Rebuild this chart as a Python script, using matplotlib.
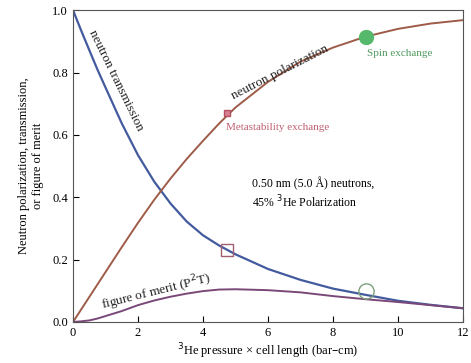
import matplotlib
matplotlib.use("Agg")
import matplotlib.pyplot as plt

# values
x = [0, 0.25, 0.5, 0.75, 1.0, 1.5, 2.0, 2.5, 3.0, 3.5, 4.0, 4.5, 5.0,
     6.0, 7.0, 8.0, 9.0, 10.0, 11.0, 12.0]
transmission = [1.0, 0.935, 0.872, 0.81, 0.752, 0.637, 0.535, 0.45, 0.38, 0.322,
                0.278, 0.245, 0.217, 0.17, 0.135, 0.107, 0.087, 0.068, 0.055, 0.044]
polarization = [0.0, 0.04, 0.08, 0.12, 0.16, 0.24, 0.318, 0.392, 0.46, 0.523,
                0.581, 0.637, 0.688, 0.77, 0.835, 0.88, 0.915, 0.94, 0.957, 0.968]
merit = [0.0, 0.002, 0.005, 0.011, 0.019, 0.035, 0.054, 0.069, 0.081, 0.091,
         0.099, 0.104, 0.105, 0.102, 0.095, 0.083, 0.073, 0.064, 0.054, 0.044]

# operating points
meta_x, meta_pol, meta_trans = 4.75, 0.67, 0.23
spin_x, spin_pol, spin_trans = 9.02, 0.915, 0.10

plt.rcParams['font.family'] = ['Liberation Serif', 'DejaVu Serif']

fig = plt.figure(figsize=(4.71, 3.63), dpi=100)
ax = fig.add_axes([0.155, 0.113, 0.828, 0.859])

ax.plot(x, transmission, color="#435a9e", lw=1.6)
ax.plot(x, polarization, color="#9e5c48", lw=1.4)
ax.plot(x, merit, color="#7a4878", lw=1.4)

ax.plot(meta_x, meta_pol, "s", ms=5, mfc="#d88090", mec="#b05060")
ax.plot(meta_x, meta_trans, "s", ms=8, mfc="none", mec="#a06070", mew=1.0)
ax.plot(spin_x, spin_pol, "o", ms=10, mfc="#55b86a", mec="#55b86a")
ax.plot(spin_x, spin_trans, "o", ms=11, mfc="none", mec="#7aa07a", mew=1.0)

ax.text(0.42, 0.925, "neutron transmission", rotation=-64, fontsize=9.5,
        ha="left", va="bottom", rotation_mode="anchor", color="#222222")
ax.text(5.0, 0.705, "neutron polarization", rotation=27, fontsize=9.5,
        ha="left", va="bottom", rotation_mode="anchor", color="#222222")
ax.text(0.95, 0.022, "figure of merit (P$^2$T)", rotation=14, fontsize=9.5,
        ha="left", va="bottom", rotation_mode="anchor", color="#222222")
ax.text(4.72, 0.625, "Metastability exchange", fontsize=8, color="#c06070",
        ha="left", va="center")
ax.text(9.05, 0.862, "Spin exchange", fontsize=8, color="#4f9a60",
        ha="left", va="center")
ax.text(5.5, 0.413, "0.50 nm (5.0 \u00c5) neutrons,\n45% $^3$He Polarization",
        fontsize=8.5, ha="left", va="center", linespacing=1.25)

ax.set_xlim(0, 12)
ax.set_ylim(0, 1.0)
ax.set_xticks([0, 2, 4, 6, 8, 10, 12])
ax.set_yticks([0.0, 0.2, 0.4, 0.6, 0.8, 1.0])
ax.set_yticklabels(["0.0", "0.2", "0.4", "0.6", "0.8", "1.0"])
ax.tick_params(direction="in", labelsize=9, length=4)
ax.set_xlabel("$^3$He pressure \u00d7 cell length (bar\u2013cm)", fontsize=9, labelpad=2)
ax.set_ylabel("Neutron polarization, transmission,\nor figure of merit", fontsize=9,
              labelpad=6)
for s in ax.spines.values():
    s.set_color("#555555")
    s.set_linewidth(0.8)

fig.savefig("out.png", dpi=100)
